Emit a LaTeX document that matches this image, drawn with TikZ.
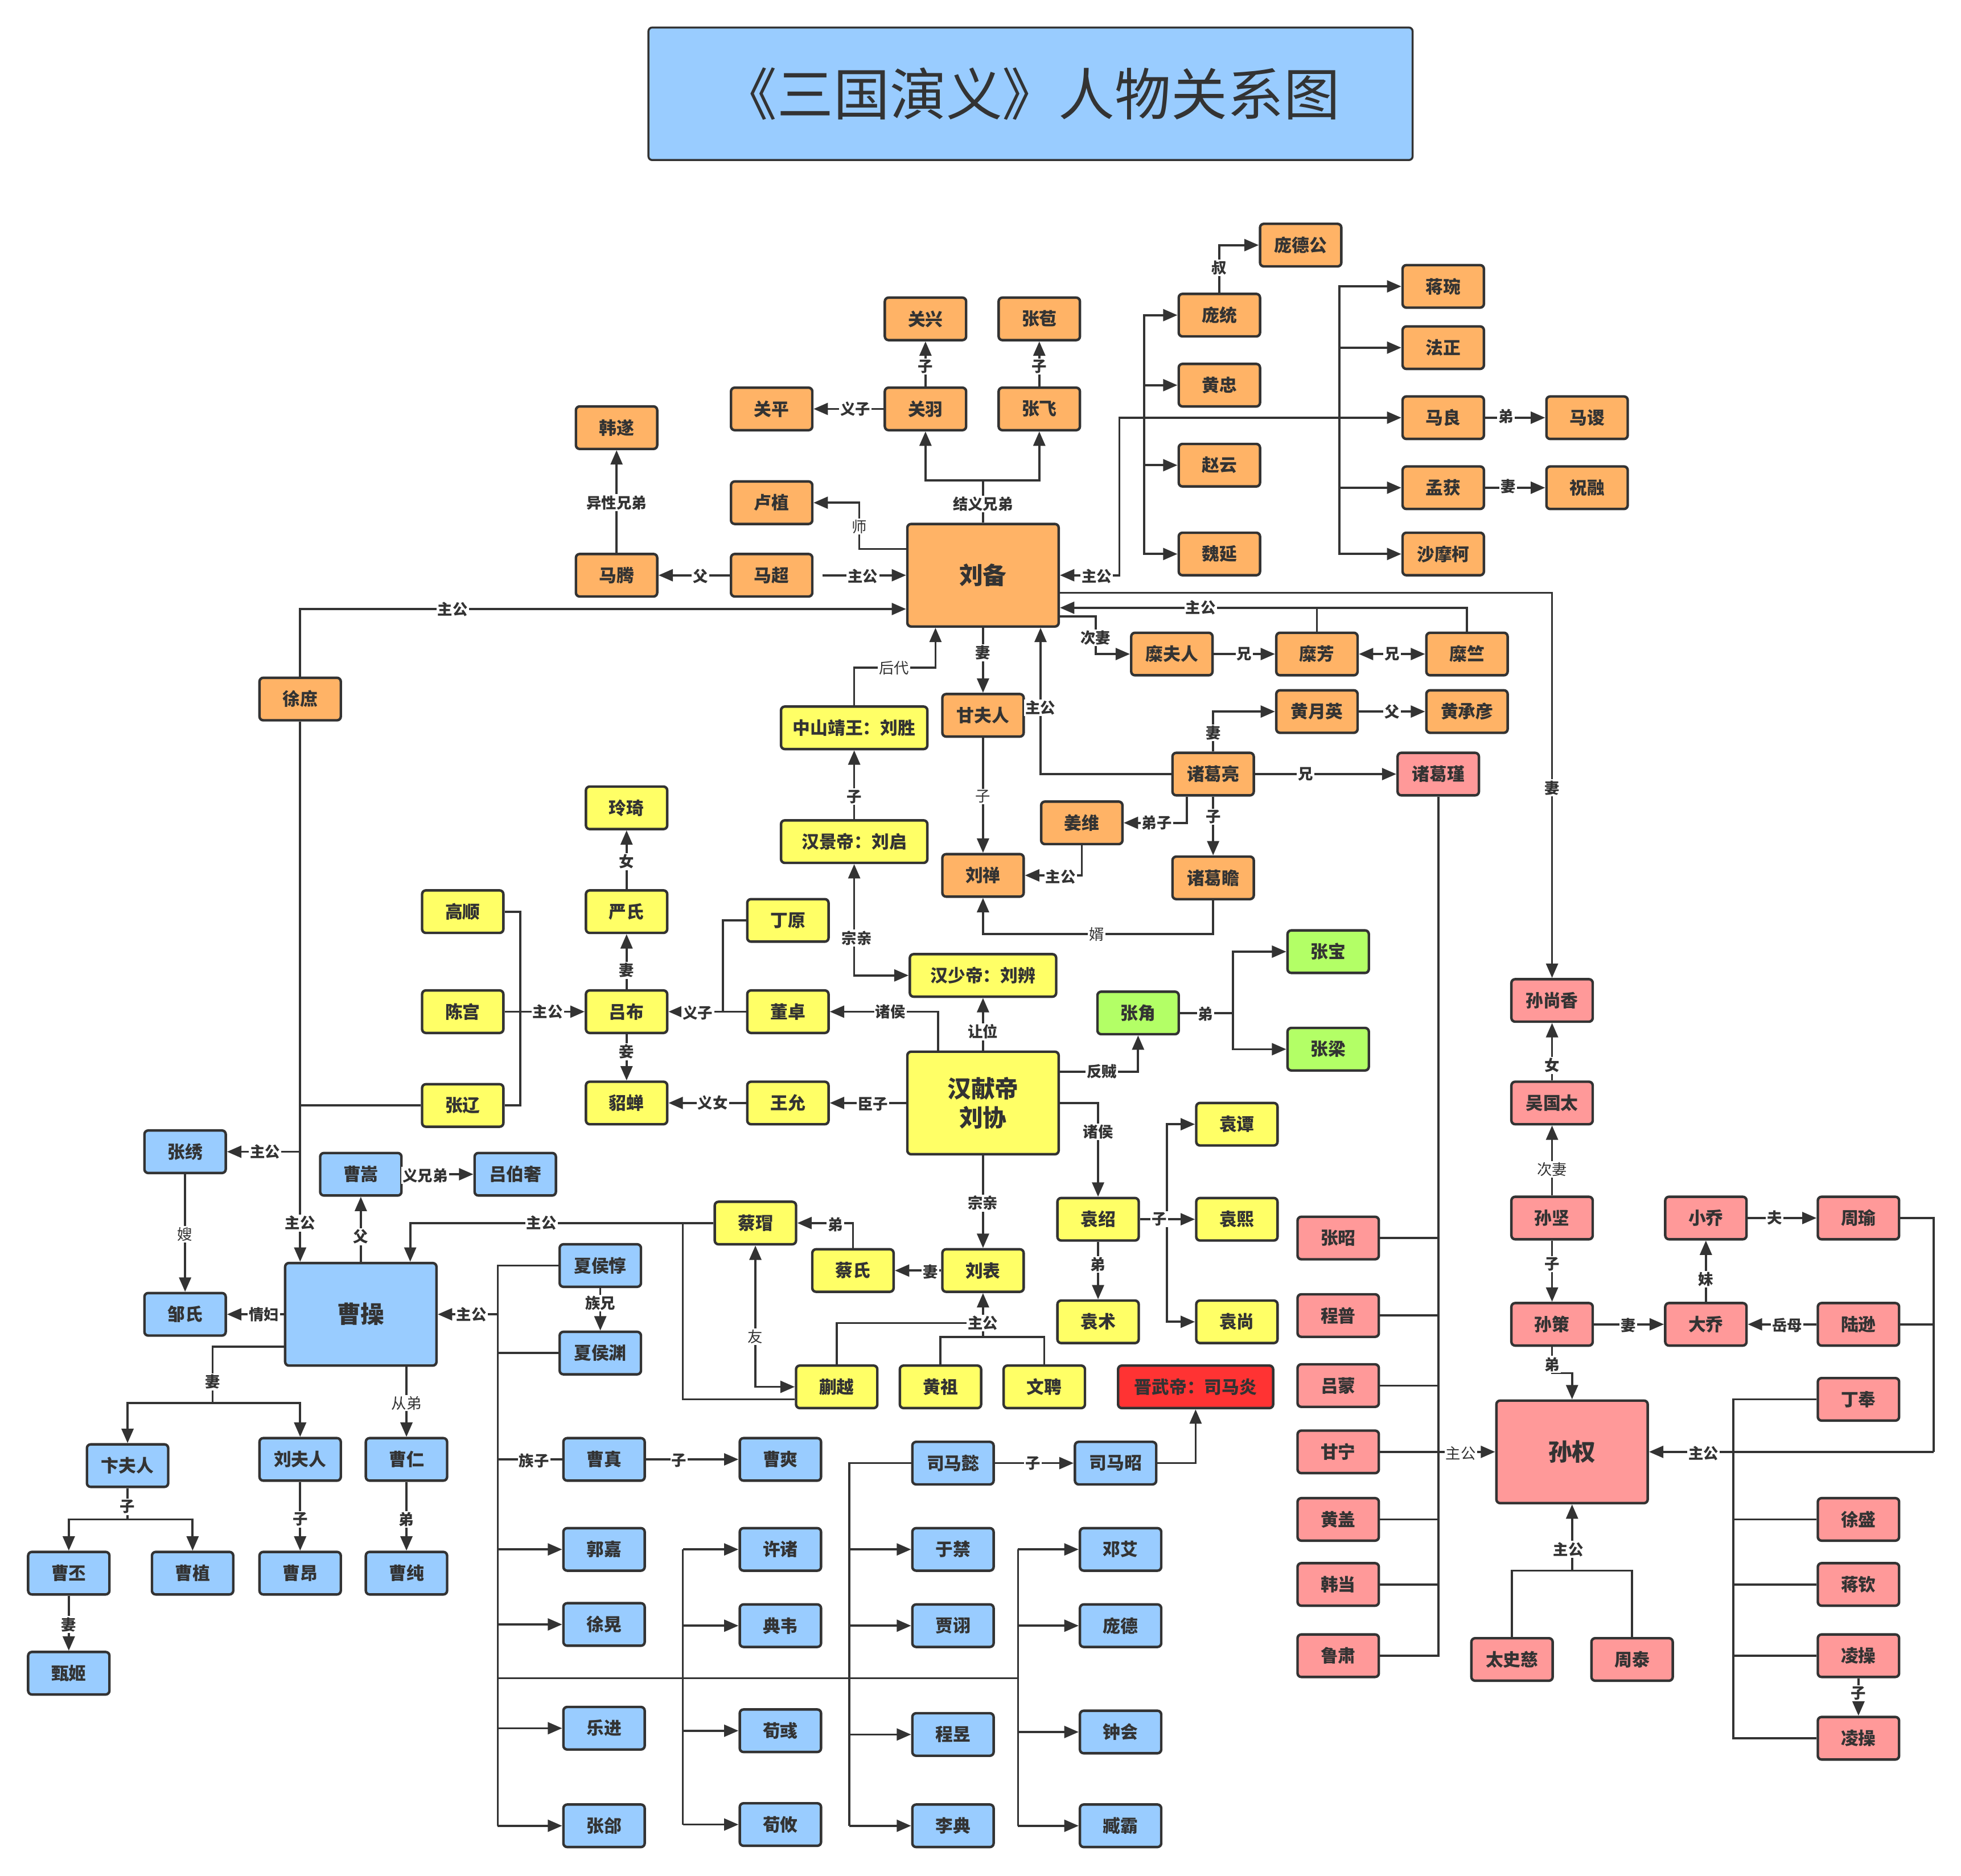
\documentclass[tikz,border=0pt]{standalone}
\usepackage{fontspec}
\setmainfont{Noto Sans CJK SC}
\usetikzlibrary{arrows.meta}
\definecolor{cshu}{HTML}{FFB366}
\definecolor{chan}{HTML}{FFFF66}
\definecolor{cwei}{HTML}{99CCFF}
\definecolor{cwu}{HTML}{FF9999}
\definecolor{chj}{HTML}{B3FF66}
\definecolor{cjin}{HTML}{FF3333}
\definecolor{lc}{HTML}{333333}
\tikzset{
  box/.style={draw=lc, line width=2pt, rounded corners=3pt, minimum width=65pt, minimum height=34pt, inner sep=0pt, text=lc, font=\bfseries\fontsize{14}{16}\selectfont},
  bigbox/.style={box, minimum width=121pt, minimum height=82pt, align=center, font=\bfseries\fontsize{19}{23}\selectfont},
  widebox/.style={box, minimum width=117pt},
  shu/.style={fill=cshu}, han/.style={fill=chan}, wei/.style={fill=cwei},
  wu/.style={fill=cwu}, hj/.style={fill=chj}, jin/.style={fill=cjin},
  ln/.style={draw=lc, line width=1.7pt},
  arr/.style={ln, -{Triangle[length=11.5pt,width=9.5pt]}},
  barr/.style={ln, {Triangle[length=11.5pt,width=9.5pt]}-{Triangle[length=11.5pt,width=9.5pt]}},
  lbl/.style={fill=white, inner sep=1pt, text=lc, font=\bfseries\fontsize{12}{13}\selectfont},
  lbll/.style={fill=white, inner sep=1pt, text=lc, font=\fontsize{12}{13}\selectfont},
  titlebox/.style={draw=lc, line width=1.6pt, rounded corners=3pt, fill=cwei, minimum width=611pt, minimum height=106pt, text=lc, font=\fontsize{45}{50}\selectfont}
}
\begin{document}
\begin{tikzpicture}[x=1pt,y=-1pt]
\fill[white] (0,0) rectangle (1568,1500);
\useasboundingbox (0,0) rectangle (1568,1500);
\node[titlebox] (title) at (824,75) {《三国演义》人物关系图};
% ---------- Shu ----------
\node[box,shu] (pangdegong) at (1040,196) {庞德公};
\node[box,shu] (pangtong) at (975,252) {庞统};
\node[box,shu] (huangzhong) at (975,308) {黄忠};
\node[box,shu] (zhaoyun) at (975,372) {赵云};
\node[box,shu] (weiyan) at (975,443) {魏延};
\node[box,shu] (jiangwan) at (1154,229) {蒋琬};
\node[box,shu] (fazheng) at (1154,278) {法正};
\node[box,shu] (maliang) at (1154,334) {马良};
\node[box,shu] (masu) at (1269,334) {马谡};
\node[box,shu] (menghuo) at (1154,390) {孟获};
\node[box,shu] (zhurong) at (1269,390) {祝融};
\node[box,shu] (shamoke) at (1154,443) {沙摩柯};
\node[box,shu] (guanxing) at (740,255) {关兴};
\node[box,shu] (zhangbao2) at (831,255) {张苞};
\node[box,shu] (guanping) at (617,327) {关平};
\node[box,shu] (guanyu) at (740,327) {关羽};
\node[box,shu] (zhangfei) at (831,327) {张飞};
\node[box,shu] (hansui) at (493,342) {韩遂};
\node[box,shu] (luzhi) at (617,402) {卢植};
\node[box,shu] (mateng) at (493,460) {马腾};
\node[box,shu] (machao) at (617,460) {马超};
\node[bigbox,shu] (liubei) at (786,460) {刘备};
\node[box,shu] (xushu) at (240,559) {徐庶};
\node[box,shu] (mifuren) at (937,523) {糜夫人};
\node[box,shu] (mifang) at (1053,523) {糜芳};
\node[box,shu] (mizhu) at (1173,523) {糜竺};
\node[box,shu] (huangyueying) at (1053,569) {黄月英};
\node[box,shu] (huangchengyan) at (1173,569) {黄承彦};
\node[box,shu] (ganfuren) at (786,572) {甘夫人};
\node[box,shu] (zhugeliang) at (970,619) {诸葛亮};
\node[box,shu] (jiangwei) at (865,658) {姜维};
\node[box,shu] (liushan) at (786,700) {刘禅};
\node[box,shu] (zhugezhan) at (970,702) {诸葛瞻};
% ---------- Wu ----------
\node[box,wu] (zhugejin) at (1150,619) {诸葛瑾};
\node[box,wu] (sunshangxiang) at (1241,800) {孙尚香};
\node[box,wu] (wuguotai) at (1241,882) {吴国太};
\node[box,wu] (sunjian) at (1241,974) {孙坚};
\node[box,wu] (xiaoqiao) at (1364,974) {小乔};
\node[box,wu] (zhouyu) at (1486,974) {周瑜};
\node[box,wu] (sunce) at (1241,1059) {孙策};
\node[box,wu] (daqiao) at (1364,1059) {大乔};
\node[box,wu] (luxun) at (1486,1059) {陆逊};
\node[box,wu] (dingfeng) at (1486,1119) {丁奉};
\node[bigbox,wu] (sunquan) at (1257,1161) {孙权};
\node[box,wu] (zhangzhao) at (1070,990) {张昭};
\node[box,wu] (chengpu) at (1070,1052) {程普};
\node[box,wu] (lvmeng) at (1070,1108) {吕蒙};
\node[box,wu] (ganning) at (1070,1161) {甘宁};
\node[box,wu] (huanggai) at (1070,1215) {黄盖};
\node[box,wu] (handang) at (1070,1267) {韩当};
\node[box,wu] (lusu) at (1070,1324) {鲁肃};
\node[box,wu] (xusheng) at (1486,1215) {徐盛};
\node[box,wu] (jiangqin) at (1486,1267) {蒋钦};
\node[box,wu] (lingcao) at (1486,1324) {凌操};
\node[box,wu] (lingtong) at (1486,1390) {凌操};
\node[box,wu] (taishici) at (1209,1327) {太史慈};
\node[box,wu] (zhoutai) at (1305,1327) {周泰};
% ---------- Han ----------
\node[widebox,han] (liusheng) at (683,582) {中山靖王：刘胜};
\node[widebox,han] (liuqi) at (683,673) {汉景帝：刘启};
\node[box,han] (lingqi) at (501,646) {玲琦};
\node[box,han] (yanshi) at (501,729) {严氏};
\node[box,han] (gaoshun) at (370,729) {高顺};
\node[box,han] (dingyuan) at (630,736) {丁原};
\node[widebox,han] (liubian) at (786,780) {汉少帝：刘辨};
\node[box,han] (chengong) at (370,809) {陈宫};
\node[box,han] (lvbu) at (501,809) {吕布};
\node[box,han] (dongzhuo) at (630,809) {董卓};
\node[bigbox,han] (xiandi) at (786,882) {汉献帝\\刘协};
\node[box,han] (zhangliao) at (370,884) {张辽};
\node[box,han] (diaochan) at (501,882) {貂蝉};
\node[box,han] (wangyun) at (630,882) {王允};
\node[box,han] (yuantan) at (989,899) {袁谭};
\node[box,han] (yuanshao) at (878,975) {袁绍};
\node[box,han] (yuanxi) at (989,975) {袁熙};
\node[box,han] (caimao) at (604,978) {蔡瑁};
\node[box,han] (caishi) at (682,1016) {蔡氏};
\node[box,han] (liubiao) at (786,1016) {刘表};
\node[box,han] (yuanshu) at (878,1057) {袁术};
\node[box,han] (yuanshang) at (989,1057) {袁尚};
\node[box,han] (kuaiyue) at (669,1109) {蒯越};
\node[box,han] (huangzu) at (752,1109) {黄祖};
\node[box,han] (wenpin) at (835,1109) {文聘};
\node[box,jin,minimum width=124pt] (jinwudi) at (956,1109) {晋武帝：司马炎};
% ---------- Yellow Turbans ----------
\node[box,hj] (zhangbao) at (1062,761) {张宝};
\node[box,hj] (zhangjiao) at (910,810) {张角};
\node[box,hj] (zhangliang) at (1062,839) {张梁};
% ---------- Wei ----------
\node[box,wei] (zhangxiu) at (148,921) {张绣};
\node[box,wei] (caosong) at (288.5,939) {曹嵩};
\node[box,wei] (lvboshe) at (412,939) {吕伯奢};
\node[box,wei] (xiahoudun) at (480,1012) {夏侯惇};
\node[bigbox,wei] (caocao) at (288.5,1051) {曹操};
\node[box,wei] (zoushi) at (148,1051) {邹氏};
\node[box,wei] (xiahouyuan) at (480,1082) {夏侯渊};
\node[box,wei] (bianfuren) at (102,1172) {卞夫人};
\node[box,wei] (liufuren) at (240,1167) {刘夫人};
\node[box,wei] (caoren) at (325,1167) {曹仁};
\node[box,wei] (caozhen) at (483,1167) {曹真};
\node[box,wei] (caoshuang) at (624,1167) {曹爽};
\node[box,wei] (simayi) at (762,1170) {司马懿};
\node[box,wei] (simazhao) at (892,1170) {司马昭};
\node[box,wei] (guojia) at (483,1239) {郭嘉};
\node[box,wei] (xuzhu) at (624,1239) {许诸};
\node[box,wei] (yujin) at (762,1239) {于禁};
\node[box,wei] (dengai) at (896,1239) {邓艾};
\node[box,wei] (caopi) at (55,1258) {曹丕};
\node[box,wei] (caozhi) at (154,1258) {曹植};
\node[box,wei] (caoang) at (240,1258) {曹昂};
\node[box,wei] (caochun) at (325,1258) {曹纯};
\node[box,wei] (xuhuang) at (483,1299) {徐晃};
\node[box,wei] (dianwei) at (624,1300) {典韦};
\node[box,wei] (jiaxu) at (762,1300) {贾诩};
\node[box,wei] (pangde) at (896,1300) {庞德};
\node[box,wei] (zhenji) at (55,1338) {甄姬};
\node[box,wei] (yuejin) at (483,1382) {乐进};
\node[box,wei] (xunyu) at (624,1384) {荀彧};
\node[box,wei] (chengyu) at (762,1387) {程昱};
\node[box,wei] (zhonghui) at (896,1385) {钟会};
\node[box,wei] (zhanghe) at (483,1460) {张郃};
\node[box,wei] (xunyou) at (624,1459) {荀攸};
\node[box,wei] (lidian) at (762,1460) {李典};
\node[box,wei] (zangba) at (896,1460) {臧霸};
% ---------- junction coordinates ----------
\coordinate (tM) at (895,334);
\coordinate (tA) at (915,334);
\coordinate (tB) at (1071,334);
\coordinate (tJ) at (786,384);
\coordinate (tZ) at (986,810);
\coordinate (tY) at (933,975);
\coordinate (tX) at (240,921);
\coordinate (tW) at (170,1122);
\coordinate (tBi) at (102,1215);
\coordinate (tC1) at (398,1051);
\coordinate (tC2) at (546,1342);
\coordinate (tC3) at (679,1342);
\coordinate (tC4) at (814,1342);
\coordinate (tK) at (546,978);
\coordinate (tL) at (786,1069);
\coordinate (tL2) at (786,1058);
\coordinate (tS1) at (1150,1161);
\coordinate (tS2) at (1386,1161);
\coordinate (tS3) at (1546,1161);
\coordinate (tT) at (1257,1256);
% ---------- Shu edges ----------
\draw[arr] (pangtong.north) |- (pangdegong.west);
\draw[barr] (liubei.east) -| (tM) -- (maliang.west);
\draw[arr] (tA) |- (pangtong.west);
\draw[arr] (tA) |- (huangzhong.west);
\draw[arr] (tA) |- (zhaoyun.west);
\draw[arr] (tA) |- (weiyan.west);
\draw[arr] (tB) |- (jiangwan.west);
\draw[arr] (tB) |- (fazheng.west);
\draw[arr] (tB) |- (menghuo.west);
\draw[arr] (tB) |- (shamoke.west);
\draw[arr] (maliang) -- (masu);
\draw[arr] (menghuo) -- (zhurong);
\draw[arr] (guanyu) -- (guanxing);
\draw[arr] (zhangfei) -- (zhangbao2);
\draw[arr] (guanyu) -- (guanping);
\draw[ln] (liubei.north) -- (tJ);
\draw[arr] (tJ) -| (guanyu.south);
\draw[arr] (tJ) -| (zhangfei.south);
\draw[arr] (liubei.west |- 0,439) -- (687,439) |- (luzhi.east);
\draw[arr] ([xshift=7pt]machao.east) -- (liubei.west);
\draw[arr] (machao) -- (mateng);
\draw[arr] (mateng) -- (hansui);
\draw[arr] (xushu.north) |- (liubei.west |- 0,487);
\draw[arr] (xushu.south) -- (xushu.south |- caocao.north);
\draw[arr] (liubei.south) -- (ganfuren.north);
\draw[arr] (ganfuren) -- (liushan);
\draw[arr] (liubei.east |- 0,493) -- (876,493) |- (mifuren.west);
\draw[arr] (mifuren) -- (mifang);
\draw[barr] (mifang) -- (mizhu);
\draw[arr] (mizhu.north) |- (liubei.east |- 0,486);
\draw[ln] (mifang.north) -- (mifang.north |- 0,486);
\draw[arr] (liubei.east |- 0,474) -| (sunshangxiang.north);
\draw[arr] (liusheng.north) |- (748,534) -- (liubei.south -| 748,0);
\draw[arr] (liuqi) -- (liusheng);
\draw[barr] (liubian.west) -| (liuqi.south);
\draw[arr] (zhugeliang.west) -| (liubei.south -| 832,0);
\draw[arr] (zhugeliang.north) |- (huangyueying.west);
\draw[arr] (huangyueying) -- (huangchengyan);
\draw[arr] (zhugeliang) -- (zhugejin);
\draw[arr] (zhugeliang.south -| 949,0) |- (jiangwei.east);
\draw[arr] (zhugeliang) -- (zhugezhan);
\draw[arr] (jiangwei.south) |- (liushan.east);
\draw[arr] (zhugezhan.south) |- (liushan.south |- 0,747) -- (liushan.south);
% ---------- Lu Bu / Han edges ----------
\draw[arr] (yanshi) -- (lingqi);
\draw[arr] (lvbu) -- (yanshi);
\draw[arr] (lvbu) -- (diaochan);
\draw[ln] (gaoshun.east) -| (zhangliao.east -| 416,0) -- (zhangliao.east);
\draw[arr] (chengong) -- (lvbu);
\draw[arr] (dongzhuo) -- (lvbu);
\draw[ln] (dingyuan.west) -| (dongzhuo.west -| 578,0);
\draw[arr] (xiandi.north -| 750,0) |- (dongzhuo.east);
\draw[arr] (xiandi) -- (liubian);
\draw[arr] (xiandi) -- (wangyun);
\draw[arr] (wangyun) -- (diaochan);
\draw[arr] (xiandi.east |- 0,857) -| (zhangjiao.south);
\draw[ln] (zhangjiao.east) -- (tZ);
\draw[arr] (tZ) |- (zhangbao.west);
\draw[arr] (tZ) |- (zhangliang.west);
\draw[arr] (xiandi.east) -| (yuanshao.north);
\draw[ln] (yuanshao.east) -- (tY);
\draw[arr] (tY) |- (yuantan.west);
\draw[arr] (tY) -- (yuanxi.west);
\draw[arr] (tY) |- (yuanshang.west);
\draw[arr] (yuanshao) -- (yuanshu);
\draw[arr] (xiandi) -- (liubiao);
\draw[arr] (liubiao) -- (caishi);
\draw[arr] (caishi.north) |- (caimao.east);
\draw[barr] (caimao.south) |- (kuaiyue.west);
\draw[arr] (caimao.west) -| (caocao.north -| 328,0);
\draw[ln] (kuaiyue.west |- 0,1119) -| (tK);
\draw[arr] (kuaiyue.north) |- (tL2) -- (liubiao.south);
\draw[ln] (huangzu.north) |- (wenpin.north |- tL) -- (wenpin.north);
\draw[ln] (tL) -- (tL2);
\draw[arr] (simayi) -- (simazhao);
\draw[arr] (simazhao.east) -| (jinwudi.south);
% ---------- Wei edges ----------
\draw[arr] (tX) -- (zhangxiu.east);
\draw[ln] (zhangliao.west) -- (zhangliao.west -| tX);
\draw[arr] (zhangxiu) -- (zoushi);
\draw[arr] (caocao) -- (zoushi);
\draw[arr] (caocao) -- (caosong);
\draw[arr] (caosong) -- (lvboshe);
\draw[ln] (caocao.west |- 0,1077) -| (tW);
\draw[arr] (tW) -| (bianfuren.north);
\draw[arr] (tW) -| (liufuren.north);
\draw[arr] (caocao.south -| caoren.north) -- (caoren.north);
\draw[ln] (bianfuren.south) -- (tBi);
\draw[arr] (tBi) -| (caopi.north);
\draw[arr] (tBi) -| (caozhi.north);
\draw[arr] (liufuren) -- (caoang);
\draw[arr] (caoren) -- (caochun);
\draw[arr] (caopi) -- (zhenji);
\draw[arr] (tC1) -- (caocao.east);
\draw[ln] (xiahoudun.west) -| (tC1 |- zhanghe.west);
\draw[ln] (xiahouyuan.west) -- (tC1 |- xiahouyuan.west);
\draw[ln] (caozhen.west) -- (tC1 |- caozhen.west);
\draw[arr] (tC1 |- guojia.west) -- (guojia.west);
\draw[arr] (tC1 |- xuhuang.west) -- (xuhuang.west);
\draw[arr] (tC1 |- yuejin.west) -- (yuejin.west);
\draw[arr] (tC1 |- zhanghe.west) -- (zhanghe.west);
\draw[ln] (tC1 |- tC2) -- (tC4);
\draw[ln] (tC2 |- xuzhu.west) -- (tC2 |- xunyou.west);
\draw[arr] (tC2 |- xuzhu.west) -- (xuzhu.west);
\draw[arr] (tC2 |- dianwei.west) -- (dianwei.west);
\draw[arr] (tC2 |- xunyu.west) -- (xunyu.west);
\draw[arr] (tC2 |- xunyou.west) -- (xunyou.west);
\draw[ln] (simayi.west) -| (tC3 |- lidian.west);
\draw[arr] (tC3 |- yujin.west) -- (yujin.west);
\draw[arr] (tC3 |- jiaxu.west) -- (jiaxu.west);
\draw[arr] (tC3 |- chengyu.west) -- (chengyu.west);
\draw[arr] (tC3 |- lidian.west) -- (lidian.west);
\draw[ln] (tC4 |- dengai.west) -- (tC4 |- zangba.west);
\draw[arr] (tC4 |- dengai.west) -- (dengai.west);
\draw[arr] (tC4 |- pangde.west) -- (pangde.west);
\draw[arr] (tC4 |- zhonghui.west) -- (zhonghui.west);
\draw[arr] (tC4 |- zangba.west) -- (zangba.west);
\draw[arr] (xiahoudun) -- (xiahouyuan);
\draw[arr] (caozhen) -- (caoshuang);
% ---------- Wu edges ----------
\draw[arr] (wuguotai) -- (sunshangxiang);
\draw[arr] (sunjian) -- (wuguotai);
\draw[arr] (sunjian) -- (sunce);
\draw[arr] (sunce) -- (daqiao);
\draw[arr] (daqiao) -- (xiaoqiao);
\draw[arr] (xiaoqiao) -- (zhouyu);
\draw[arr] (luxun) -- (daqiao);
\draw[arr] (sunce.south) |- (sunquan.north |- 0,1098) -- (sunquan.north);
\draw[ln] (zhugejin.south) |- (lusu.east);
\draw[ln] (zhangzhao.east) -- (tS1 |- zhangzhao.east);
\draw[ln] (chengpu.east) -- (tS1 |- chengpu.east);
\draw[ln] (lvmeng.east) -- (tS1 |- lvmeng.east);
\draw[ln] (huanggai.east) -- (tS1 |- huanggai.east);
\draw[ln] (handang.east) -- (tS1 |- handang.east);
\draw[arr] (ganning.east) -- (sunquan.west);
\draw[ln] (dingfeng.west) -| (tS2 |- lingtong.west) -- (lingtong.west);
\draw[ln] (xusheng.west) -- (tS2 |- xusheng.west);
\draw[ln] (jiangqin.west) -- (tS2 |- jiangqin.west);
\draw[ln] (lingcao.west) -- (tS2 |- lingcao.west);
\draw[arr] (tS3) -- (sunquan.east);
\draw[ln] (zhouyu.east) -| (tS3);
\draw[ln] (luxun.east) -- (tS3 |- luxun.east);
\draw[arr] (lingcao) -- (lingtong);
\draw[ln] (taishici.north) |- (zhoutai.north |- tT) -- (zhoutai.north);
\draw[arr] (sunquan.south |- tT) -- (sunquan.south);
% ---------- labels ----------
\node[lbl] (l1) at (975,214) {叔};
\node[lbl] (l2) at (877,461) {主公};
\node[lbl] (l3) at (1204,333) {弟};
\node[lbl] (l4) at (1206,389) {妻};
\node[lbl] (l5) at (740,293) {子};
\node[lbl] (l6) at (831,293) {子};
\node[lbl] (l7) at (684,327) {义子};
\node[lbl] (l8) at (786,403) {结义兄弟};
\node[lbll] (l9) at (687,421) {师};
\node[lbl] (l10) at (690,461) {主公};
\node[lbl] (l11) at (560,461) {父};
\node[lbl] (l12) at (493,402) {异性兄弟};
\node[lbl] (l13) at (362,487) {主公};
\node[lbl] (l14) at (240,978) {主公};
\node[lbl] (l15) at (786,522) {妻};
\node[lbll] (l16) at (786,637) {子};
\node[lbl] (l17) at (876,510) {次妻};
\node[lbl] (l18) at (995,523) {兄};
\node[lbl] (l19) at (1113,523) {兄};
\node[lbl] (l20) at (960,486) {主公};
\node[lbl] (l21) at (1241,630) {妻};
\node[lbll] (l22) at (715,534) {后代};
\node[lbl] (l23) at (683,637) {子};
\node[lbl] (l24) at (685,750) {宗亲};
\node[lbl] (l25) at (832,566) {主公};
\node[lbl] (l26) at (970,586) {妻};
\node[lbl] (l27) at (1113,569) {父};
\node[lbl] (l28) at (1044,619) {兄};
\node[lbl] (l29) at (925,658) {弟子};
\node[lbl] (l30) at (970,653) {子};
\node[lbl] (l31) at (848,701) {主公};
\node[lbll] (l32) at (877,747) {婿};
\node[lbl] (l33) at (501,689) {女};
\node[lbl] (l34) at (501,776) {妻};
\node[lbl] (l35) at (501,841) {妾};
\node[lbl] (l36) at (438,809) {主公};
\node[lbl] (l37) at (558,810) {义子};
\node[lbl] (l38) at (712,809) {诸侯};
\node[lbl] (l39) at (786,825) {让位};
\node[lbl] (l40) at (698,883) {臣子};
\node[lbl] (l41) at (570,882) {义女};
\node[lbl] (l42) at (881,857) {反贼};
\node[lbl] (l43) at (964,811) {弟};
\node[lbl] (l44) at (878,905) {诸侯};
\node[lbl] (l45) at (927,975) {子};
\node[lbl] (l46) at (878,1011) {弟};
\node[lbl] (l47) at (786,962) {宗亲};
\node[lbl] (l48) at (744,1017) {妻};
\node[lbl] (l49) at (668,979) {弟};
\node[lbll] (l50) at (604,1069) {友};
\node[lbl] (l51) at (433,978) {主公};
\node[lbl] (l52) at (786,1058) {主公};
\node[lbl] (l53) at (826,1170) {子};
\node[lbl] (l54) at (212,921) {主公};
\node[lbll] (l55) at (148,987) {嫂};
\node[lbl] (l56) at (211,1051) {情妇};
\node[lbl] (l57) at (288.5,989) {父};
\node[lbl] (l58) at (340,940) {义兄弟};
\node[lbl] (l59) at (170,1105) {妻};
\node[lbll] (l60) at (325,1122) {从弟};
\node[lbl] (l61) at (102,1205) {子};
\node[lbl] (l62) at (240,1215) {子};
\node[lbl] (l63) at (325,1215) {弟};
\node[lbl] (l64) at (55,1299) {妻};
\node[lbl] (l65) at (377,1051) {主公};
\node[lbl] (l66) at (427,1168) {族子};
\node[lbl] (l67) at (480,1042) {族兄};
\node[lbl] (l68) at (543,1168) {子};
\node[lbl] (l69) at (1241,852) {女};
\node[lbll] (l70) at (1241,935) {次妻};
\node[lbl] (l71) at (1241,1011) {子};
\node[lbl] (l72) at (1302,1060) {妻};
\node[lbl] (l73) at (1364,1023) {妹};
\node[lbl] (l74) at (1419,974) {夫};
\node[lbl] (l75) at (1429,1060) {岳母};
\node[lbl] (l76) at (1241,1091) {弟};
\node[lbll] (l77) at (1168,1162) {主公};
\node[lbl] (l78) at (1362,1162) {主公};
\node[lbl] (l79) at (1486,1354) {子};
\node[lbl] (l80) at (1254,1239) {主公};
\end{tikzpicture}
\end{document}
